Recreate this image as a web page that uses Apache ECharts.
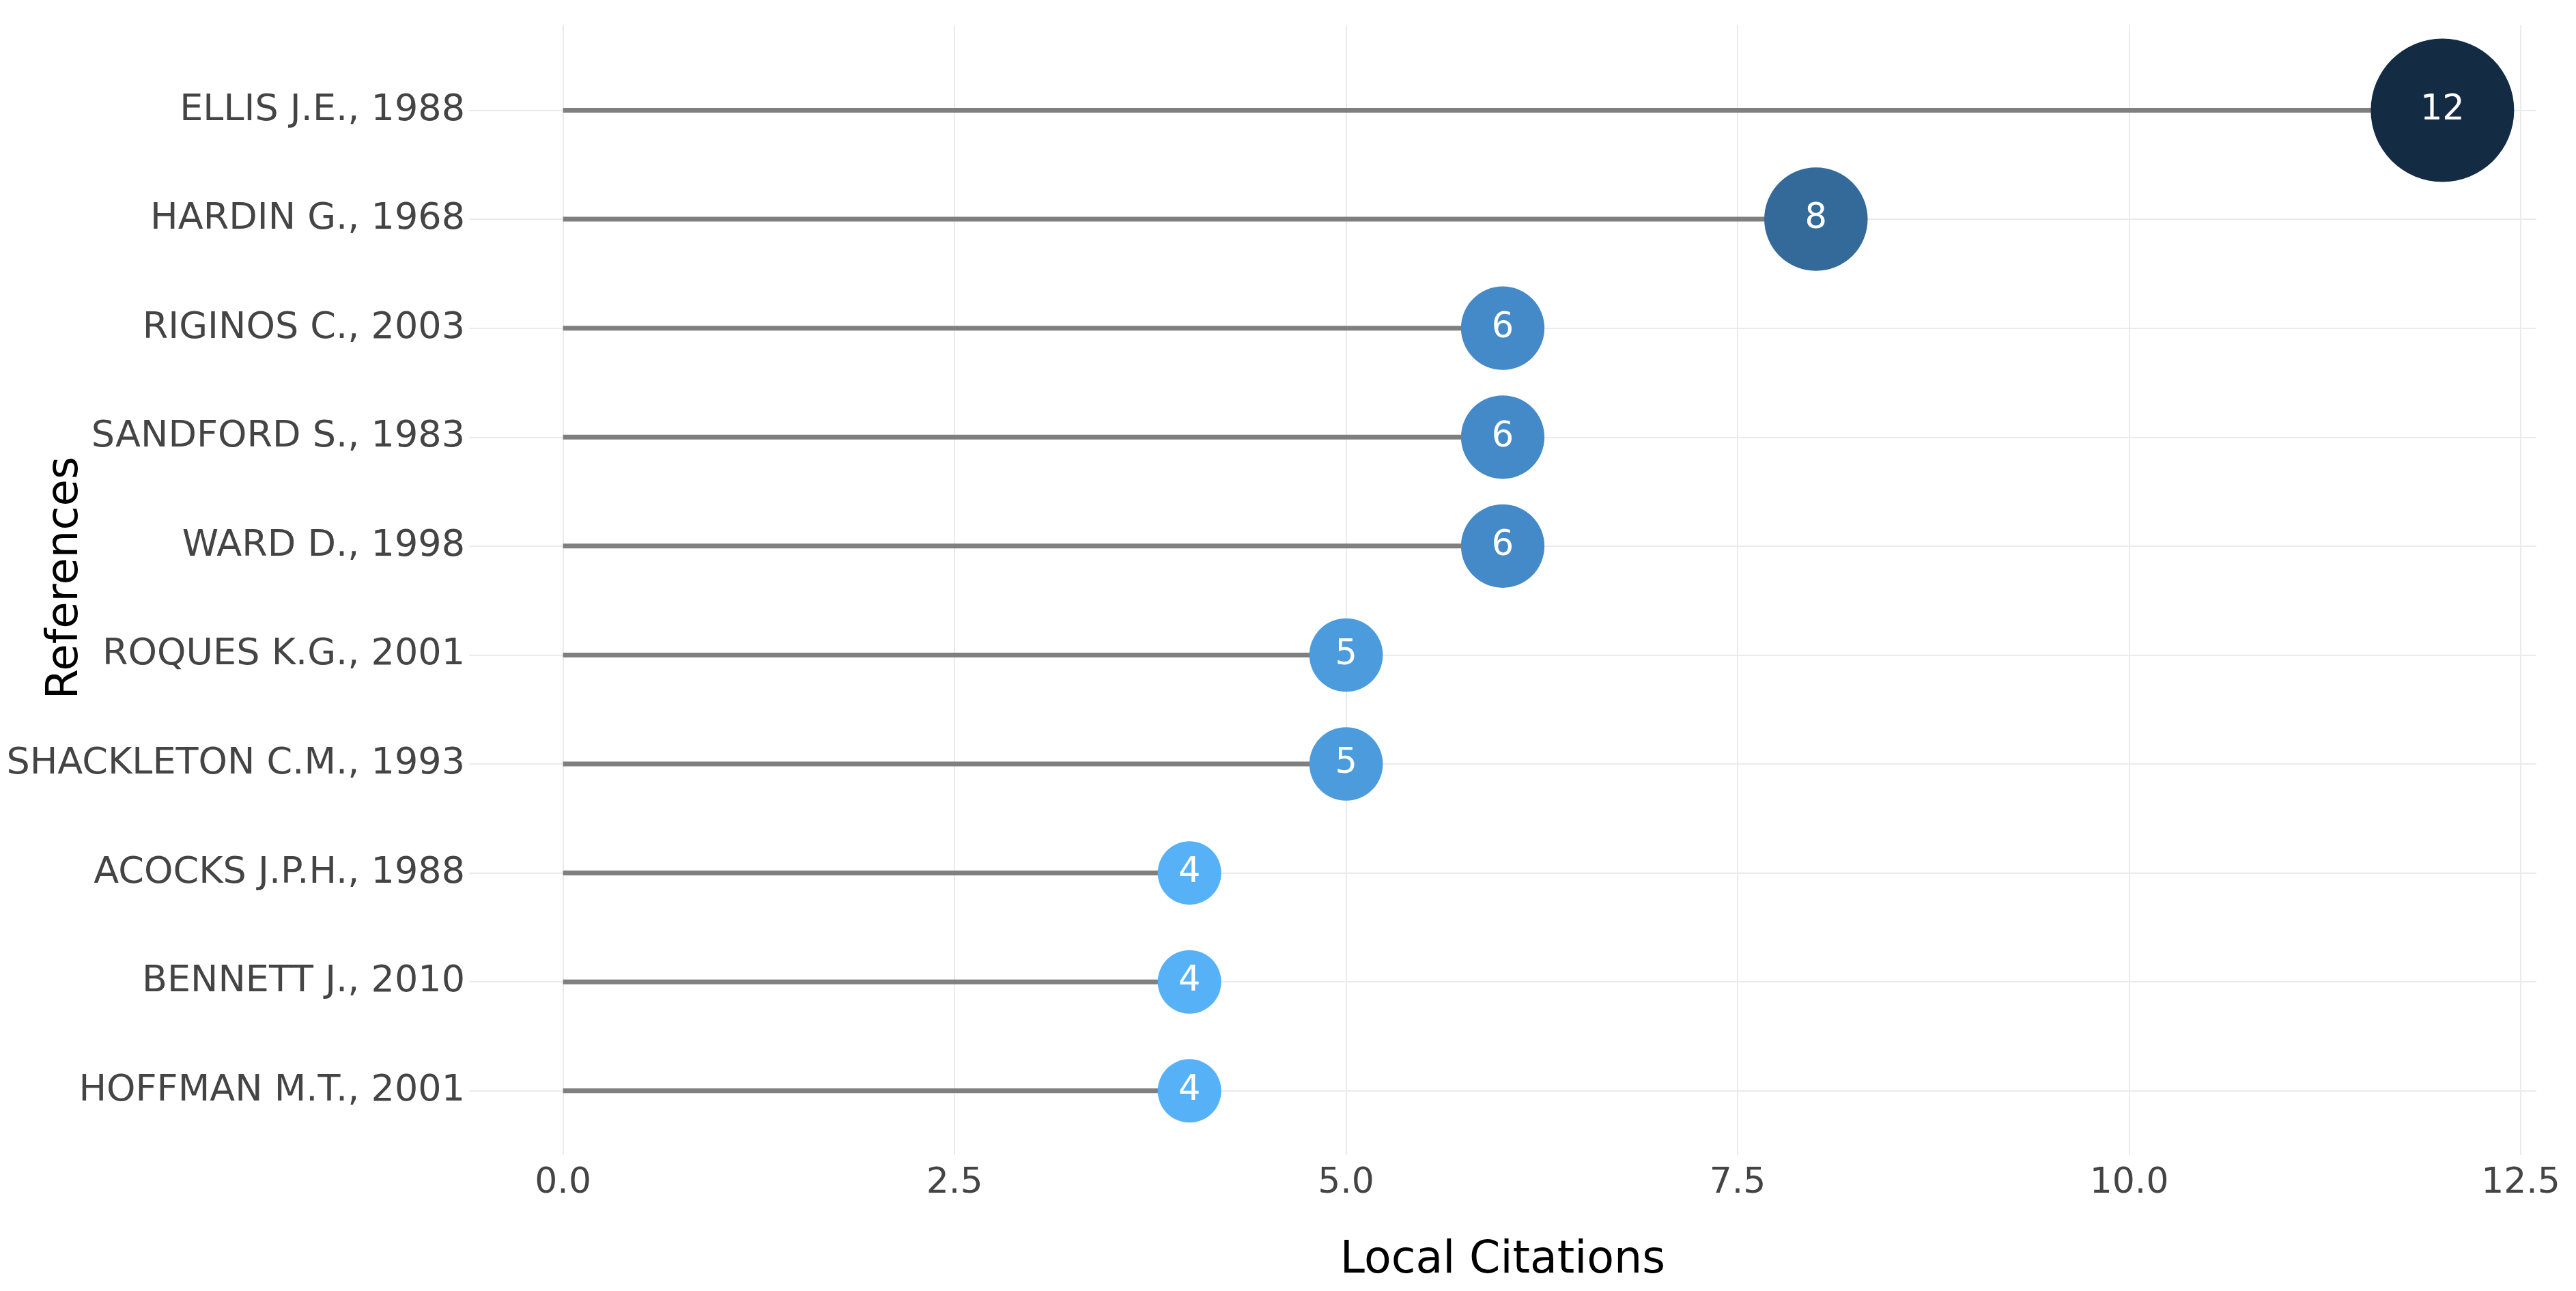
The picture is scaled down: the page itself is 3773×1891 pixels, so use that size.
<!DOCTYPE html>
<html><head><meta charset="utf-8">
<script src="https://cdn.jsdelivr.net/npm/echarts@6/dist/echarts.min.js"></script>
<style>html,body{margin:0;padding:0;background:#fff}#c{width:3773px;height:1891px}</style>
</head><body><div id="c"></div>
<script>
const categories = ['ELLIS J.E., 1988','HARDIN G., 1968','RIGINOS C., 2003','SANDFORD S., 1983','WARD D., 1998','ROQUES K.G., 2001','SHACKLETON C.M., 1993','ACOCKS J.P.H., 1988','BENNETT J., 2010','HOFFMAN M.T., 2001'];
const citations = [12,8,6,6,6,5,5,4,4,4];
const xTicks = [0,2.5,5,7.5,10,12.5];
const xTitle = 'Local Citations';
const yTitle = 'References';

const idx = categories.map((c,i)=>i);
const stemData = [];
citations.forEach((v,i)=>{ stemData.push([0,i],[v,i],['-','-']); });
const pointData = citations.map((v,i)=>[v,i]);

const FONT = 'DejaVu Sans';
const chart = echarts.init(document.getElementById('c'), null, {renderer:'canvas'});
chart.setOption({
  animation:false,
  backgroundColor:'#ffffff',
  grid:{left:687,right:58,top:37,bottom:199,containLabel:false,outerBoundsMode:'none'},
  xAxis:{
    type:'value', min:-0.6, max:12.6,
    name:xTitle, nameLocation:'middle', nameGap:123, nameMoveOverlap:false,
    nameTextStyle:{fontFamily:FONT,fontSize:65,color:'#000000'},
    axisLine:{show:false},
    axisTick:{show:false, customValues:xTicks},
    axisLabel:{customValues:xTicks, margin:15, fontFamily:FONT, fontSize:52, color:'#444444',
      formatter:v=>Number(v).toFixed(1)},
    splitLine:{show:true, lineStyle:{color:'#ebebeb', width:2}}
  },
  yAxis:{
    type:'value', inverse:true, min:-0.78, max:9.59,
    name:yTitle, nameLocation:'middle', nameGap:559, nameRotate:90, nameMoveOverlap:false,
    nameTextStyle:{fontFamily:FONT,fontSize:64,color:'#000000',padding:[0,0,0,36]},
    axisLine:{show:false},
    axisTick:{show:false, customValues:idx},
    axisLabel:{customValues:idx, margin:6, fontFamily:FONT, fontSize:54, color:'#444444',
      formatter:v=>categories[Math.round(v)]},
    splitLine:{show:true, lineStyle:{color:'#ebebeb', width:2}}
  },
  visualMap:[
    {type:'continuous', show:false, seriesIndex:1, dimension:0, min:4, max:12,
     inRange:{color:['#56B1F7','#4B9BDD','#4489C8','#3B79B0','#336A9A','#2C5C87','#244D73','#1C3C5C','#132B43']}},
    {type:'continuous', show:false, seriesIndex:1, dimension:0, min:4, max:12,
     inRange:{symbolSize:[93,210]}}
  ],
  series:[
    {type:'line', data:stemData, symbol:'none', connectNulls:false, z:1,
     lineStyle:{color:'#7f7f7f', width:7}},
    {type:'scatter', data:pointData, z:3,
     itemStyle:{opacity:1},
     label:{show:true, position:'inside', color:'#ffffff', fontFamily:FONT, fontSize:51,
       formatter:p=>String(p.value[0])}}
  ]
});
</script></body></html>
